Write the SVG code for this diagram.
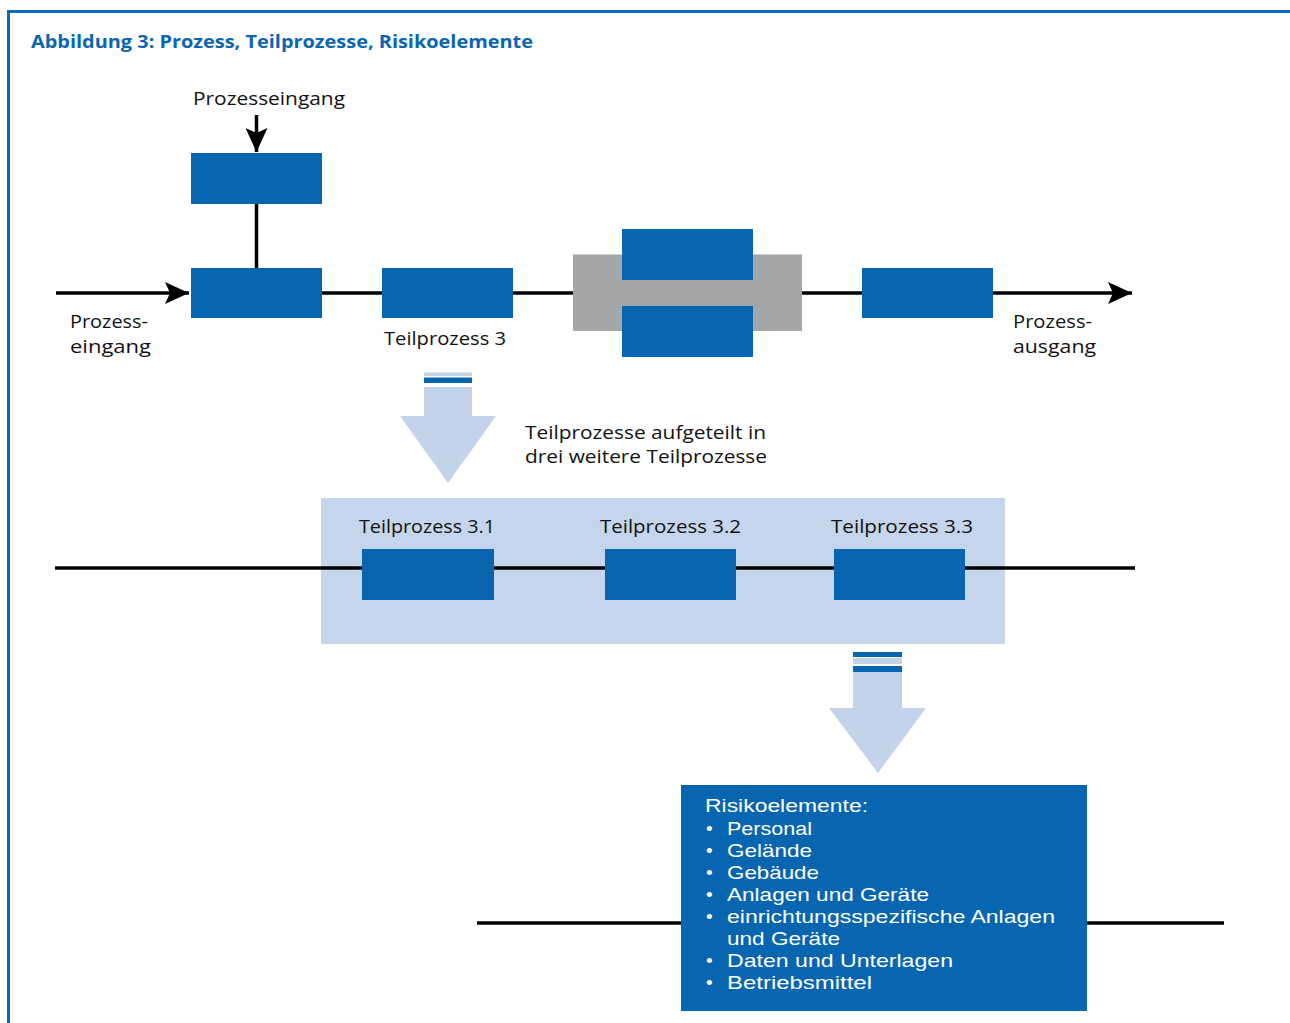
<svg xmlns="http://www.w3.org/2000/svg" width="1290" height="1023" viewBox="0 0 1290 1023">
  <defs>
    <style>
      .frame { fill: none; stroke: #0a68b4; stroke-width: 3; }
      .title { font-family: "Open Sans", "Liberation Sans", sans-serif; font-weight: 700; font-size: 18.5px; fill: #0a66b2; }
      .lbl { font-family: "Open Sans", "Liberation Sans", sans-serif; font-size: 18.5px; fill: #111; }
      .risk { font-family: "Liberation Sans", "Open Sans", sans-serif; font-size: 19px; fill: #ffffff; }
      .box { fill: #0866b0; }
      .flow { stroke: #000; stroke-width: 3.5; fill: none; }
      .band { fill: #c5d5eb; }
      .split { fill: #c3d3ea; }
      .strip { fill: #0866b0; }
    </style>
    <marker id="arrow" viewBox="0 0 24 22" refX="24" refY="11" markerWidth="24" markerHeight="22" markerUnits="userSpaceOnUse" orient="auto">
      <path d="M0,0 L24,11 L0,22 L5,11 Z" fill="#000"/>
    </marker>
  </defs>

  <rect width="1290" height="1023" fill="#ffffff"/>

  <!-- outer frame: left and top border -->
  <path class="frame" d="M8.5,1023 V11.5 H1290"/>

  <text class="title" x="31" y="48" textLength="502" lengthAdjust="spacingAndGlyphs">Abbildung 3: Prozess, Teilprozesse, Risikoelemente</text>

  <!-- connectors -->
  <g id="connectors">
    <line class="flow" x1="256.5" y1="115" x2="256.5" y2="152" marker-end="url(#arrow)"/>
    <line class="flow" x1="256.5" y1="204" x2="256.5" y2="268"/>
    <line class="flow" x1="56" y1="293" x2="189" y2="293" marker-end="url(#arrow)"/>
    <line class="flow" x1="322" y1="293" x2="382" y2="293"/>
    <line class="flow" x1="513" y1="293" x2="573" y2="293"/>
    <line class="flow" x1="802" y1="293" x2="862" y2="293"/>
    <line class="flow" x1="993" y1="293" x2="1132" y2="293" marker-end="url(#arrow)"/>
  </g>

  <!-- top level process -->
  <g id="input-step">
    <text class="lbl" x="269" y="105" text-anchor="middle" textLength="152" lengthAdjust="spacingAndGlyphs">Prozesseingang</text>
    <rect class="box" x="191" y="153" width="131" height="51"/>
  </g>
  <g id="step-1">
    <rect class="box" x="191" y="268" width="131" height="50"/>
  </g>
  <g id="label-input">
    <text class="lbl" x="70" y="328" textLength="78" lengthAdjust="spacingAndGlyphs">Prozess-</text>
    <text class="lbl" x="70" y="353" textLength="81" lengthAdjust="spacingAndGlyphs">eingang</text>
  </g>
  <g id="step-3">
    <rect class="box" x="382" y="268" width="131" height="50"/>
    <text class="lbl" x="384" y="345" textLength="122" lengthAdjust="spacingAndGlyphs">Teilprozess 3</text>
  </g>
  <g id="parallel-step">
    <rect x="573" y="254.5" width="229" height="76.5" fill="#a4a6a8"/>
    <rect class="box" x="622" y="229" width="131" height="51"/>
    <rect class="box" x="622" y="306" width="131" height="51"/>
  </g>
  <g id="step-last">
    <rect class="box" x="862" y="268" width="131" height="50"/>
  </g>
  <g id="label-output">
    <text class="lbl" x="1013" y="328" textLength="79" lengthAdjust="spacingAndGlyphs">Prozess-</text>
    <text class="lbl" x="1013" y="353" textLength="83" lengthAdjust="spacingAndGlyphs">ausgang</text>
  </g>

  <!-- refinement arrow into sub-processes -->
  <g id="split-arrow-1">
    <rect class="split" x="424" y="372.5" width="48" height="3.5"/>
    <rect class="strip" x="424" y="377.5" width="48" height="5.5"/>
    <path class="split" d="M424,387 H472 V416 H496 L448,483 L400,416 H424 Z"/>
  </g>
  <g id="split-note">
    <text class="lbl" x="525" y="439" textLength="241" lengthAdjust="spacingAndGlyphs">Teilprozesse aufgeteilt in</text>
    <text class="lbl" x="525" y="463" textLength="242" lengthAdjust="spacingAndGlyphs">drei weitere Teilprozesse</text>
  </g>

  <!-- sub-process band -->
  <g id="subprocess-band">
    <rect class="band" x="321" y="498" width="684" height="146"/>
    <line class="flow" x1="55" y1="568" x2="1135" y2="568"/>
  </g>
  <g id="step-3-1">
    <rect class="box" x="362" y="549" width="132" height="51"/>
    <text class="lbl" x="359" y="533" textLength="136" lengthAdjust="spacingAndGlyphs">Teilprozess 3.1</text>
  </g>
  <g id="step-3-2">
    <rect class="box" x="605" y="549" width="131" height="51"/>
    <text class="lbl" x="600" y="533" textLength="141" lengthAdjust="spacingAndGlyphs">Teilprozess 3.2</text>
  </g>
  <g id="step-3-3">
    <rect class="box" x="834" y="549" width="131" height="51"/>
    <text class="lbl" x="831" y="533" textLength="142" lengthAdjust="spacingAndGlyphs">Teilprozess 3.3</text>
  </g>

  <!-- refinement arrow into risk elements -->
  <g id="split-arrow-2">
    <rect class="strip" x="853" y="652" width="49" height="5"/>
    <rect class="split" x="853" y="658" width="49" height="6"/>
    <rect class="strip" x="853" y="666" width="49" height="6"/>
    <path class="split" d="M853,672 H902 V708 H926 L878,773 L829,708 H853 Z"/>
  </g>

  <!-- risk elements -->
  <g id="risk-elements">
    <line class="flow" x1="477" y1="923" x2="1224" y2="923"/>
    <rect class="box" x="681" y="785" width="406" height="226"/>
    <g class="risk">
      <text x="705" y="812" textLength="163" lengthAdjust="spacingAndGlyphs">Risikoelemente:</text>
      <text x="706" y="835">•</text><text x="727" y="835" textLength="85" lengthAdjust="spacingAndGlyphs">Personal</text>
      <text x="706" y="857">•</text><text x="727" y="857" textLength="85" lengthAdjust="spacingAndGlyphs">Gelände</text>
      <text x="706" y="879">•</text><text x="727" y="879" textLength="92" lengthAdjust="spacingAndGlyphs">Gebäude</text>
      <text x="706" y="901">•</text><text x="727" y="901" textLength="202" lengthAdjust="spacingAndGlyphs">Anlagen und Geräte</text>
      <text x="706" y="923">•</text><text x="727" y="923" textLength="328" lengthAdjust="spacingAndGlyphs">einrichtungsspezifische Anlagen</text>
      <text x="727" y="945" textLength="113" lengthAdjust="spacingAndGlyphs">und Geräte</text>
      <text x="706" y="967">•</text><text x="727" y="967" textLength="226" lengthAdjust="spacingAndGlyphs">Daten und Unterlagen</text>
      <text x="706" y="989">•</text><text x="727" y="989" textLength="145" lengthAdjust="spacingAndGlyphs">Betriebsmittel</text>
    </g>
  </g>
</svg>
